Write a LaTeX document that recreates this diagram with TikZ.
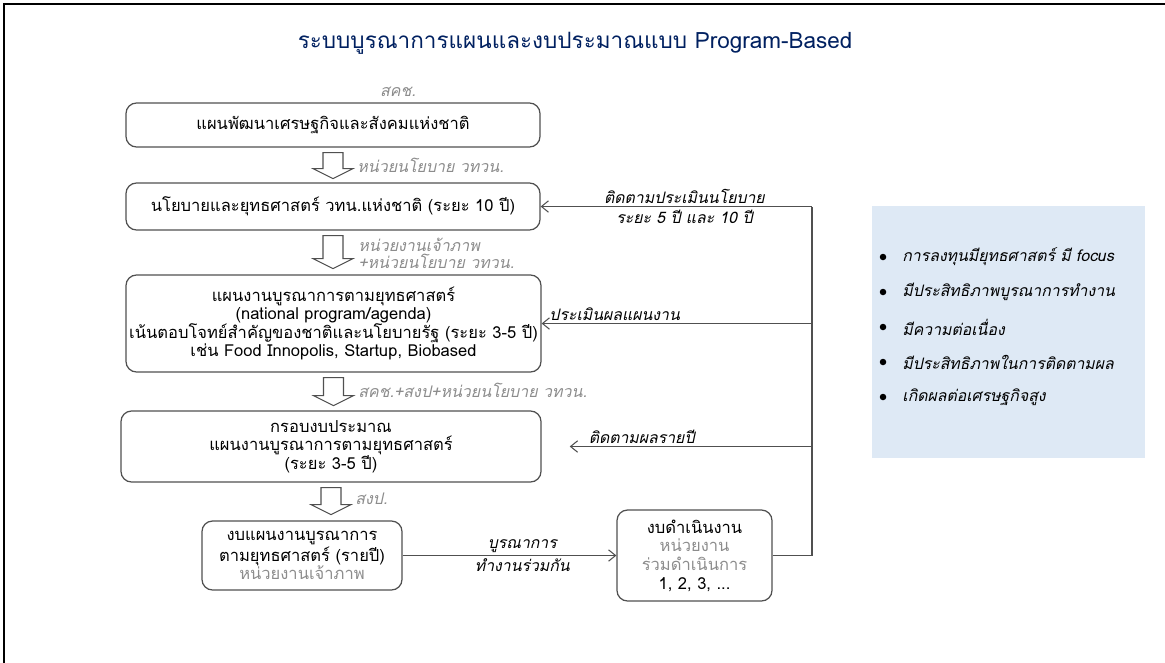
\documentclass[tikz,border=0pt]{standalone}
\usepackage{fontspec}
\setmainfont{Loma}[Script=Thai, ItalicFont={Loma Oblique}, BoldFont={Loma Bold}, BoldItalicFont={Loma Bold Oblique}]
\usetikzlibrary{arrows.meta}
\definecolor{titleblue}{RGB}{0,32,96}
\definecolor{notegray}{RGB}{140,140,140}
\definecolor{linegray}{RGB}{80,80,80}
\definecolor{panelblue}{RGB}{222,233,245}
\tikzset{
  planbox/.style={draw=linegray, line width=0.7pt, rounded corners=6pt, align=center,
    font=\fontsize{9.4}{10.6}\selectfont, inner sep=0pt},
  hollowarrow/.style={draw=linegray, line width=0.6pt, fill=white},
  notelabel/.style={text=notegray, font=\fontsize{9.1}{9.8}\selectfont\itshape,
    anchor=west, align=left, inner sep=0pt},
  fbline/.style={draw=linegray, line width=0.6pt},
  fbtip/.style={-{Straight Barb[length=4pt,width=6.5pt]}},
  fblabel/.style={font=\fontsize{9}{10}\selectfont\itshape, inner sep=1.5pt},
  benefit/.style={font=\fontsize{9}{10}\selectfont\itshape, anchor=west, inner sep=0pt}
}
% hollow down arrow below a box, #2 = shaft length
\newcommand\flowarrow[2]{%
  \draw[hollowarrow] (#1.south) ++(-0.2,-0.1) -- ++(0.4,0) -- ++(0,-#2) -- ++(0.2,0)
    -- ++(-0.4,-0.2) -- ++(-0.4,0.2) -- ++(0.2,0) -- cycle;}
\begin{document}
\begin{tikzpicture}
\useasboundingbox (0,0) rectangle (23.3,-13.24);
\draw[line width=1.2pt] (0.08,-13.3) -- (0.08,-0.08) -- (23.4,-0.08);

\node[text=titleblue, font=\fontsize{12.8}{14}\selectfont] (title) at (11.5,-0.86)
  {ระบบบูรณาการแผนและงบประมาณแบบ Program-Based};
\node[text=notegray, font=\fontsize{9.1}{10}\selectfont\itshape] (owner) at (7.96,-1.84) {สคช.};

% main chain
\node[planbox, minimum width=8.28cm, minimum height=0.88cm] (b1) at (6.66,-2.50)
  {แผนพัฒนาเศรษฐกิจและสังคมแห่งชาติ};
\node[planbox, minimum width=8.28cm, minimum height=0.94cm] (b2) at (6.66,-4.13)
  {นโยบายและยุทธศาสตร์ วทน.แห่งชาติ (ระยะ 10 ปี)};
\node[planbox, minimum width=8.30cm, minimum height=1.94cm] (b3) at (6.67,-6.47)
  {แผนงานบูรณาการตามยุทธศาสตร์\\(national program/agenda)\\
   เน้นตอบโจทย์สำคัญของชาติและนโยบายรัฐ (ระยะ 3-5 ปี)\\
   เช่น Food Innopolis, Startup, Biobased};
\node[planbox, minimum width=8.40cm, minimum height=1.42cm] (b4) at (6.62,-8.93)
  {กรอบงบประมาณ\\แผนงานบูรณาการตามยุทธศาสตร์\\(ระยะ 3-5 ปี)};
\node[planbox, minimum width=4.00cm, minimum height=1.38cm] (b5) at (6.04,-11.11)
  {งบแผนงานบูรณาการ\\ตามยุทธศาสตร์ (รายปี)\\\textcolor{notegray}{หน่วยงานเจ้าภาพ}};
\node[planbox, minimum width=3.10cm, minimum height=1.82cm] (b6) at (13.89,-11.11)
  {งบดำเนินงาน\\\textcolor{notegray}{หน่วยงาน}\\\textcolor{notegray}{ร่วมดำเนินการ}\\1, 2, 3, ...};

\flowarrow{b1}{0.32}
\flowarrow{b2}{0.46}
\flowarrow{b3}{0.36}
\flowarrow{b4}{0.34}
\node[notelabel] (n1) at (7.14,-3.30) {หน่วยนโยบาย วทวน.};
\node[notelabel] (n2) at (7.16,-5.06) {หน่วยงานเจ้าภาพ\\+หน่วยนโยบาย วทวน.};
\node[notelabel] (n3) at (7.16,-7.80) {สคช.+สงป+หน่วยนโยบาย วทวน.};
\node[notelabel] (n4) at (7.10,-9.98) {สงป.};

% joint work
\draw[fbline, fbtip] (b5.east) -- node[fblabel, above, pos=0.56] {บูรณาการ}
  node[fblabel, below, pos=0.56] {ทำงานร่วมกัน} (b6.west);

% feedback loop
\coordinate (trunk) at (16.24,-4.13);
\draw[fbline] (b6.east) -| (trunk);
\draw[fbline, fbtip] (trunk) -- node[fblabel, above, pos=0.47] {ติดตามประเมินนโยบาย}
  node[fblabel, below, pos=0.47] {ระยะ 5 ปี และ 10 ปี} (b2.east);
\draw[fbline, fbtip] (trunk |- b3.east) -- node[fblabel, above, pos=0.73] {ประเมินผลแผนงาน} (b3.east);
\draw[fbline, fbtip, shorten >=16pt] (trunk |- b4.east) -- node[fblabel, above, pos=0.63] {ติดตามผลรายปี} (b4.east);

% benefits
\node[fill=panelblue, minimum width=5.46cm, minimum height=5.04cm, inner sep=0pt] (panel) at (20.17,-6.64) {};
\foreach \txt [count=\i from 0] in {การลงทุนมียุทธศาสตร์ มี focus, มีประสิทธิภาพบูรณาการทำงาน,
  มีความต่อเนื่อง, มีประสิทธิภาพในการติดตามผล, เกิดผลต่อเศรษฐกิจสูง} {
  \fill (17.66,-5.14-0.7*\i) circle (0.065);
  \node[benefit] (benefit\i) at (18.04,-5.14-0.7*\i) {\txt};
}
\end{tikzpicture}
\end{document}
